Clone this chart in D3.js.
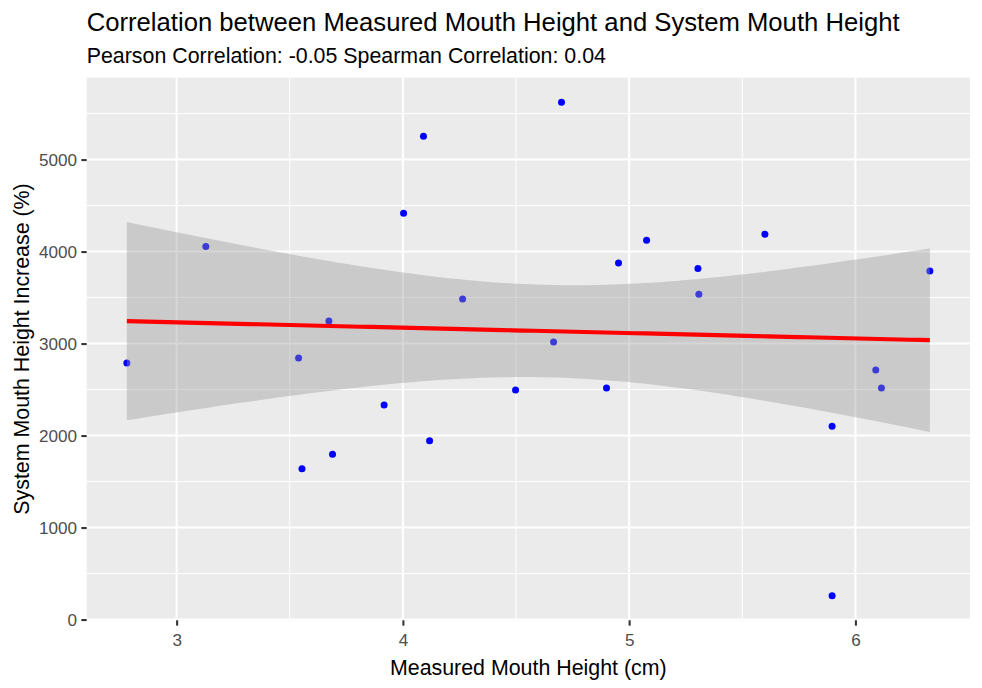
<!DOCTYPE html>
<html>
<head>
<meta charset="utf-8">
<script src="https://cdn.jsdelivr.net/npm/d3@7"></script>
<style>
	body { margin: 0; background: #fff; }
	svg text { font-family: "Liberation Sans", Arial, sans-serif; }
</style>
</head>
<body>
<div id="chart"></div>
<script>
// Measured mouth height (cm) vs system mouth height increase (%)
const measuredHeight = [2.780, 3.129, 3.539, 3.554, 3.673, 3.689, 3.917, 4.003, 4.091, 4.118,
	4.264, 4.498, 4.666, 4.701, 4.900, 4.953, 5.077, 5.304, 5.308, 5.600,
	5.897, 5.897, 6.090, 6.115, 6.329];
const systemIncrease = [2789, 4056, 2844, 1639, 3245, 1798, 2333, 4417, 5253, 1943,
	3484, 2496, 3017, 5622, 2518, 3875, 4124, 3817, 3535, 4189,
	2102, 260, 2713, 2518, 3788];

const xTicks = [3, 4, 5, 6];
const yTicks = [0, 1000, 2000, 3000, 4000, 5000];

const titleText = "Correlation between Measured Mouth Height and System Mouth Height";
const subtitleText = "Pearson Correlation: -0.05 Spearman Correlation: 0.04";
const xLabel = "Measured Mouth Height (cm)";
const yLabel = "System Mouth Height Increase (%)";

const width = 982, height = 688;
const panel = { left: 86.7, right: 970, top: 77.7, bottom: 620.3 };
const pt = 1.944; // px per pt at this device resolution

// Linear fit with 95% confidence band, the same as geom_smooth(method = "lm")
const points = measuredHeight.map((x, i) => ({ x, y: systemIncrease[i] }));
const n = points.length;
const xMean = d3.mean(points, d => d.x);
const yMean = d3.mean(points, d => d.y);
const sxx = d3.sum(points, d => (d.x - xMean) ** 2);
const sxy = d3.sum(points, d => (d.x - xMean) * (d.y - yMean));
const slope = sxy / sxx;
const intercept = yMean - slope * xMean;
const residSd = Math.sqrt(d3.sum(points, d => (d.y - intercept - slope * d.x) ** 2) / (n - 2));
const tCrit = 2.068658; // t(0.975, df = 23)

const [xMin, xMax] = d3.extent(measuredHeight);
const fit = d3.range(80).map(i => {
	const x = xMin + (xMax - xMin) * i / 79;
	const y = intercept + slope * x;
	const se = residSd * Math.sqrt(1 / n + (x - xMean) ** 2 / sxx);
	return { x, y, lo: y - tCrit * se, hi: y + tCrit * se };
});

// ggplot style 5% expansion on both scales
const xPad = (xMax - xMin) * 0.05;
const yLo = Math.min(d3.min(systemIncrease), d3.min(fit, d => d.lo));
const yHi = Math.max(d3.max(systemIncrease), d3.max(fit, d => d.hi));
const yPad = (yHi - yLo) * 0.05;

const x = d3.scaleLinear().domain([xMin - xPad, xMax + xPad]).range([panel.left, panel.right]);
const y = d3.scaleLinear().domain([yLo - yPad, yHi + yPad]).range([panel.bottom, panel.top]);

const svg = d3.select("#chart")
	.append("svg")
	.attr("width", width)
	.attr("height", height);

svg.append("rect")
	.attr("x", panel.left)
	.attr("y", panel.top)
	.attr("width", panel.right - panel.left)
	.attr("height", panel.bottom - panel.top)
	.attr("fill", "#EBEBEB");

// minor grid half way between the major breaks
const xMinor = d3.pairs(xTicks).map(([a, b]) => (a + b) / 2);
const yMinor = d3.pairs(yTicks).map(([a, b]) => (a + b) / 2)
	.concat([yTicks[yTicks.length - 1] + 500])
	.filter(v => v < y.domain()[1]);

const grid = svg.append("g").attr("stroke", "#fff");
grid.selectAll(".xminor").data(xMinor).join("line")
	.attr("x1", d => x(d)).attr("x2", d => x(d))
	.attr("y1", panel.top).attr("y2", panel.bottom)
	.attr("stroke-width", 1.04);
grid.selectAll(".yminor").data(yMinor).join("line")
	.attr("x1", panel.left).attr("x2", panel.right)
	.attr("y1", d => y(d)).attr("y2", d => y(d))
	.attr("stroke-width", 1.04);
grid.selectAll(".xmajor").data(xTicks).join("line")
	.attr("x1", d => x(d)).attr("x2", d => x(d))
	.attr("y1", panel.top).attr("y2", panel.bottom)
	.attr("stroke-width", 2.07);
grid.selectAll(".ymajor").data(yTicks).join("line")
	.attr("x1", panel.left).attr("x2", panel.right)
	.attr("y1", d => y(d)).attr("y2", d => y(d))
	.attr("stroke-width", 2.07);

// points first, the band is drawn over them
svg.append("g")
	.selectAll("circle")
	.data(points)
	.join("circle")
	.attr("cx", d => x(d.x))
	.attr("cy", d => y(d.y))
	.attr("r", 3.5)
	.attr("fill", "#0000FF");

svg.append("path")
	.datum(fit)
	.attr("fill", "#999999")
	.attr("fill-opacity", 0.4)
	.attr("d", d3.area().x(d => x(d.x)).y0(d => y(d.lo)).y1(d => y(d.hi)));

svg.append("path")
	.datum(fit)
	.attr("fill", "none")
	.attr("stroke", "#FF0000")
	.attr("stroke-width", 4.15)
	.attr("d", d3.line().x(d => x(d.x)).y(d => y(d.y)));

// axes
const tickSize = 2.75 * pt;
const xAxis = svg.append("g")
	.attr("transform", `translate(0,${panel.bottom})`)
	.call(d3.axisBottom(x).tickValues(xTicks).tickSize(tickSize).tickPadding(2.2 * pt).tickFormat(d3.format("d")));
const yAxis = svg.append("g")
	.attr("transform", `translate(${panel.left},0)`)
	.call(d3.axisLeft(y).tickValues(yTicks).tickSize(tickSize).tickPadding(2.2 * pt).tickFormat(d3.format("d")));

[xAxis, yAxis].forEach(a => {
	a.select(".domain").remove();
	a.selectAll(".tick line").attr("stroke", "#333333").attr("stroke-width", 2.07);
	a.selectAll(".tick text")
		.attr("fill", "#4D4D4D")
		.style("font-size", (8.8 * pt) + "px")
		.style("font-family", "'Liberation Sans', Arial, sans-serif");
});
xAxis.selectAll(".tick text").attr("dy", null).attr("y", 26.2);
yAxis.selectAll(".tick text").attr("dy", "0.36em");

// titles
svg.append("text")
	.attr("x", panel.left)
	.attr("y", 30.7)
	.style("font-size", (13.2 * pt) + "px")
	.attr("fill", "#000")
	.text(titleText);

svg.append("text")
	.attr("x", panel.left)
	.attr("y", 63.3)
	.style("font-size", (11 * pt) + "px")
	.attr("fill", "#000")
	.text(subtitleText);

svg.append("text")
	.attr("x", (panel.left + panel.right) / 2)
	.attr("y", 675)
	.attr("text-anchor", "middle")
	.style("font-size", (11 * pt) + "px")
	.attr("fill", "#000")
	.text(xLabel);

svg.append("text")
	.attr("transform", `translate(29.3,${(panel.top + panel.bottom) / 2}) rotate(-90)`)
	.attr("text-anchor", "middle")
	.style("font-size", (11 * pt) + "px")
	.attr("fill", "#000")
	.text(yLabel);
</script>
</body>
</html>
